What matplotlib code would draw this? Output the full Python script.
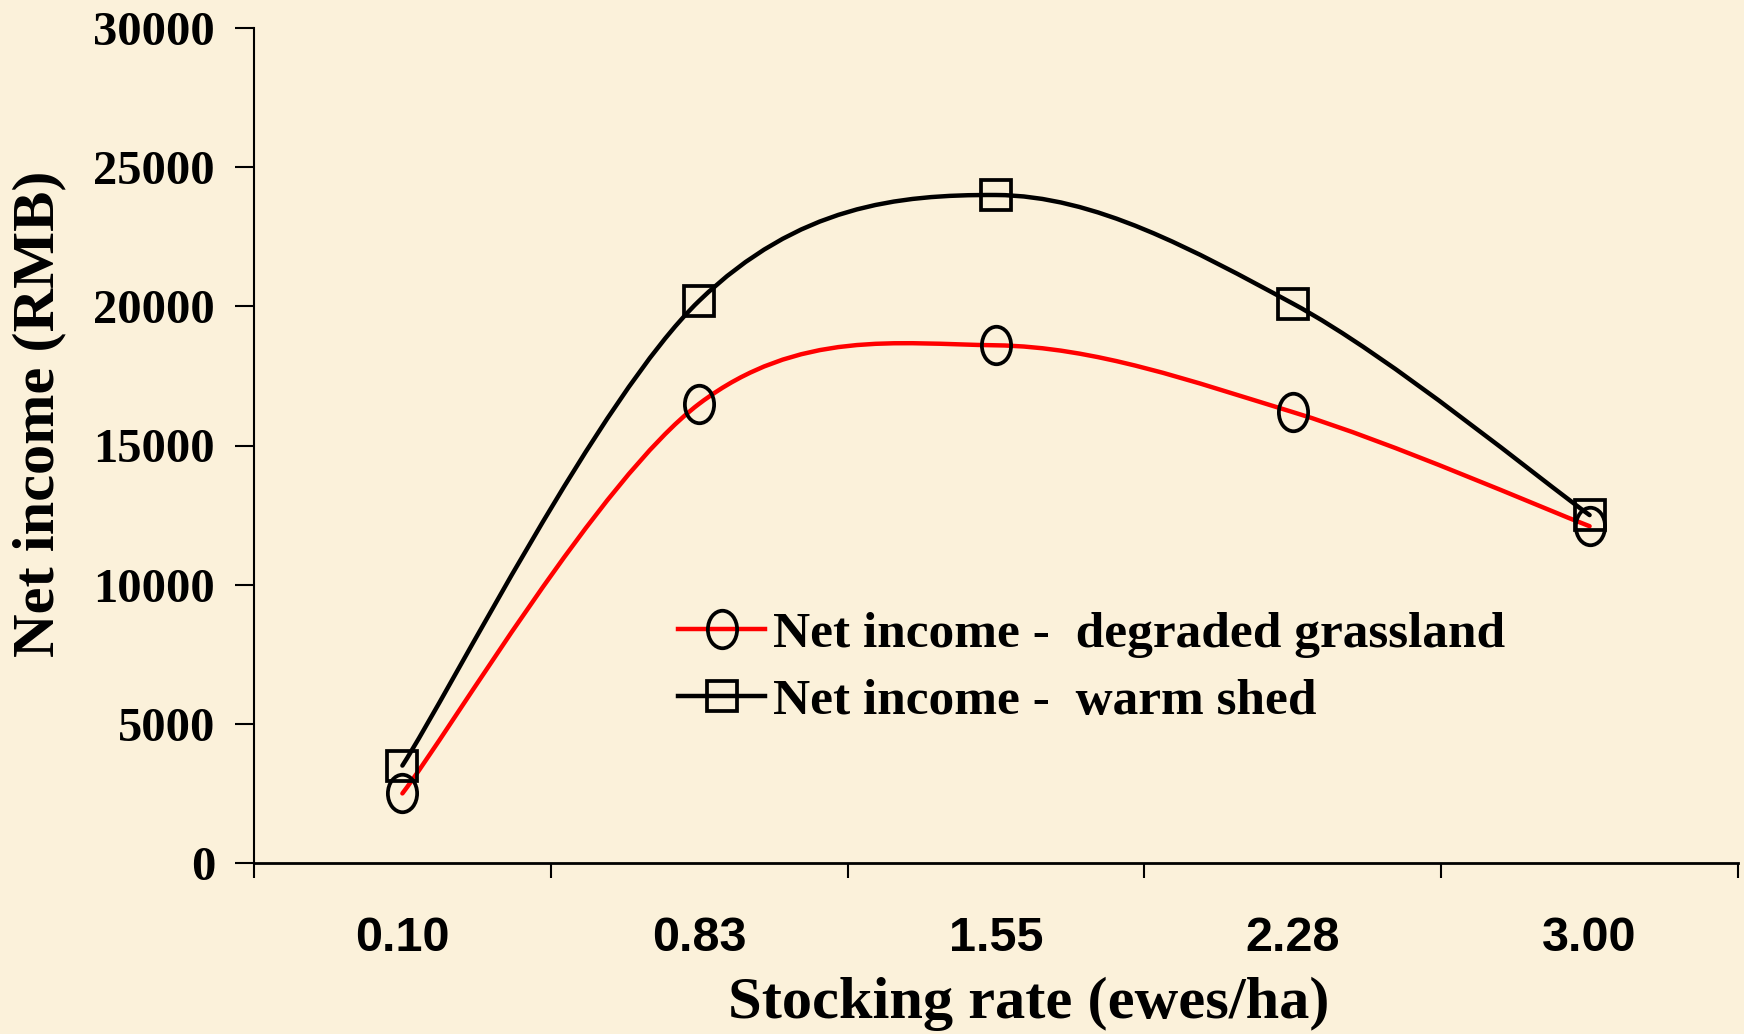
import matplotlib
matplotlib.use("Agg")
import matplotlib.pyplot as plt
from matplotlib.path import Path
from matplotlib.patches import PathPatch
from matplotlib.lines import Line2D
from matplotlib.transforms import Affine2D
import numpy as np

# ---- data ----
categories = ["0.10", "0.83", "1.55", "2.28", "3.00"]
degraded = [2500, 16500, 18600, 16200, 12100]
warm_shed = [3500, 20200, 24000, 20100, 12500]
y_ticks = [0, 5000, 10000, 15000, 20000, 25000, 30000]
series_labels = ["Net income -  degraded grassland", "Net income -  warm shed"]
x_label = "Stocking rate (ewes/ha)"
y_label = "Net income (RMB)"

BG = "#FBF1DA"
SERIF = ["Liberation Serif", "DejaVu Serif"]
NARROW = ["Liberation Sans Narrow", "Liberation Sans", "DejaVu Sans"]


def smooth_path(xs, ys):
    pts = np.column_stack([xs, ys]).astype(float)
    n = len(pts)
    verts = [pts[0]]
    codes = [Path.MOVETO]
    for i in range(n - 1):
        p_prev = pts[i - 1] if i > 0 else pts[i]
        p_next2 = pts[i + 2] if i + 2 < n else pts[i + 1]
        c1 = pts[i] + (pts[i + 1] - p_prev) / 6.0
        c2 = pts[i + 1] - (p_next2 - pts[i]) / 6.0
        verts += [c1, c2, pts[i + 1]]
        codes += [Path.CURVE4] * 3
    return Path(verts, codes)


W, H = 1744, 1034
AX_L, AX_R, AX_T, AX_B = 254, 1738, 28, 863
fig = plt.figure(figsize=(W / 100, H / 100), dpi=100, facecolor=BG)
ax = fig.add_axes([AX_L / W, 1 - AX_B / H, (AX_R - AX_L) / W, (AX_B - AX_T) / H])
ax.set_facecolor("none")

x = np.arange(len(categories))
ellipse = Path.unit_circle().transformed(Affine2D().scale(0.78, 1.0))

series = [
    (warm_shed, "black", "s", 22, series_labels[1]),
    (degraded, "#FF0000", ellipse, 27, series_labels[0]),
]
for vals, col, mk, ms, lab in series:
    ax.add_patch(PathPatch(smooth_path(x, vals), fill=False, edgecolor=col,
                           lw=3.2, capstyle="round", joinstyle="round", zorder=2))
    ax.plot(x, vals, linestyle="none", marker=mk, markersize=ms,
            markerfacecolor="none", markeredgecolor="black",
            markeredgewidth=2.7, zorder=3)

ax.set_xlim(-0.5, len(categories) - 0.5)
ax.set_ylim(0, 30000)

# x axis: ticks at category boundaries, labels at centres
ax.set_xticks(np.arange(-0.5, len(categories), 1.0))
ax.set_xticklabels([])
ax.set_xticks(x, minor=True)
ax.set_xticklabels(categories, minor=True, fontfamily=NARROW,
                   fontweight="bold", fontsize=35)
ax.tick_params(axis="x", which="major", direction="out", length=11,
               width=1.5, color="black")
ax.tick_params(axis="x", which="minor", length=0, pad=38)

ax.set_yticks(y_ticks)
ax.set_yticklabels([str(v) for v in y_ticks], fontfamily=SERIF,
                   fontweight="bold", fontsize=35)
ax.tick_params(axis="y", direction="out", length=14, width=1.5, pad=14)

for s in ["top", "right"]:
    ax.spines[s].set_visible(False)
ax.spines["left"].set_linewidth(1.5)
ax.spines["bottom"].set_linewidth(2.0)

ax.set_xlabel(x_label, fontfamily=SERIF, fontweight="bold", fontsize=43.5)
ax.xaxis.label.set_va("center")
ax.xaxis.set_label_coords((1029 - AX_L) / (AX_R - AX_L), (AX_B - 1004) / (AX_B - AX_T))
ax.set_ylabel(y_label, fontfamily=SERIF, fontweight="bold", fontsize=43.5)
ax.yaxis.label.set_va("center")
ax.yaxis.set_label_coords((39 - AX_L) / (AX_R - AX_L), (AX_B - 414) / (AX_B - AX_T))

handles = [
    Line2D([], [], color="#FF0000", lw=3.2, marker=ellipse, markersize=27,
           markerfacecolor="none", markeredgecolor="black", markeredgewidth=2.7),
    Line2D([], [], color="black", lw=3.2, marker="s", markersize=22,
           markerfacecolor="none", markeredgecolor="black", markeredgewidth=2.7),
]
leg = ax.legend(handles, series_labels, loc="center left",
                bbox_to_anchor=((678 - AX_L) / (AX_R - AX_L), (AX_B - 668) / (AX_B - AX_T)),
                frameon=False, borderpad=0, borderaxespad=0,
                handlelength=1.7, handletextpad=0.15, labelspacing=0.4,
                prop={"family": SERIF, "weight": "bold", "size": 37})

fig.savefig("out.png", dpi=100, facecolor=BG)
